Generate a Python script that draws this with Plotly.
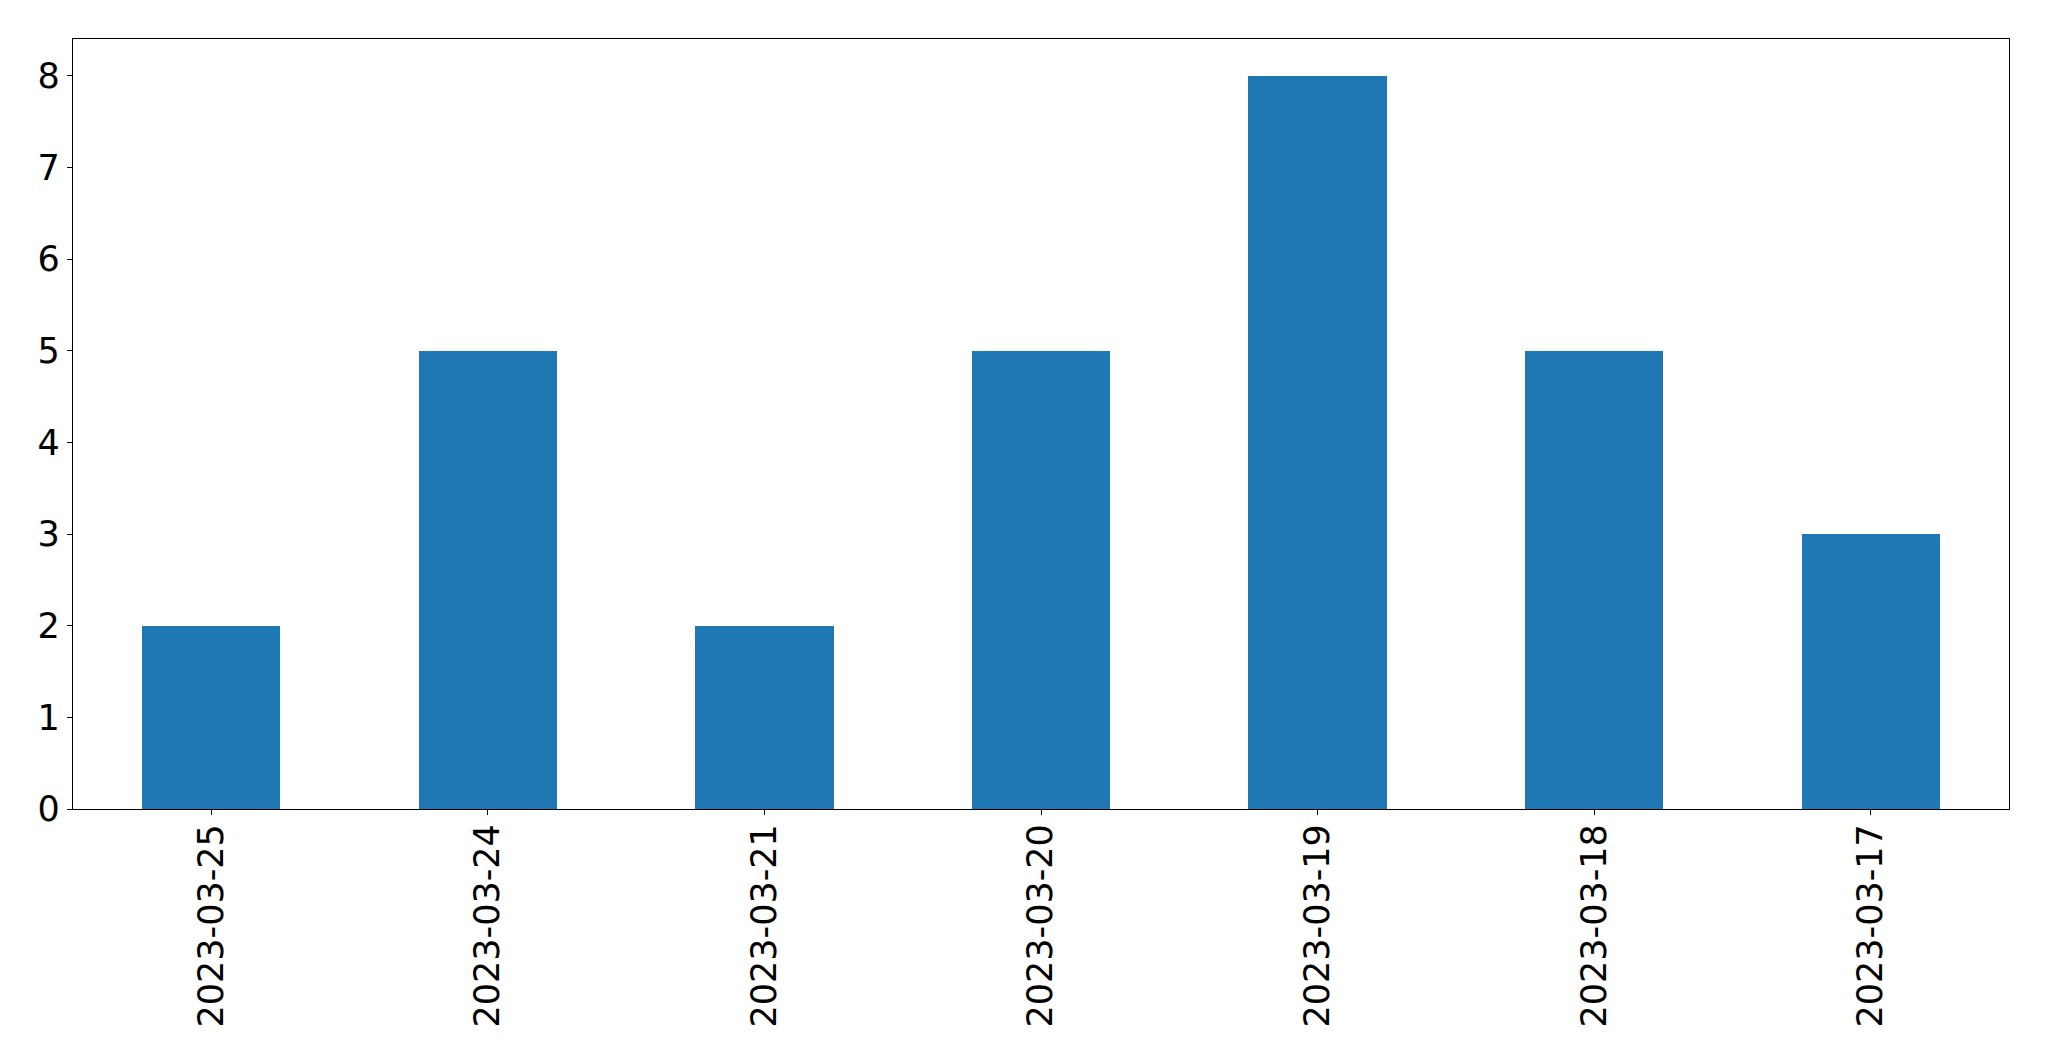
import plotly.graph_objects as go

categories = ["2023-03-25", "2023-03-24", "2023-03-21", "2023-03-20", "2023-03-19", "2023-03-18", "2023-03-17"]
values = [2, 5, 2, 5, 8, 5, 3]
y_ticks = [0, 1, 2, 3, 4, 5, 6, 7, 8]

fig = go.Figure()
fig.add_trace(go.Bar(
    x=list(range(len(categories))),
    y=values,
    width=0.5,
    marker=dict(color="#1f77b4", line=dict(width=0)),
))

# page body has an 8px margin; size the figure to fit the window exactly
OFF = 8
W, H = 2049 - 2 * OFF, 1061 - 2 * OFF
left, right, top, bottom = 72.5 - OFF, 2009.3 - OFF, 39.3 - OFF, 809.3 - OFF

fig.update_layout(
    width=W, height=H,
    margin=dict(l=left, r=W - right, t=top, b=H - bottom, pad=0, autoexpand=False),
    paper_bgcolor="white", plot_bgcolor="white",
    font=dict(family="DejaVu Sans", size=34, color="black"),
    showlegend=False,
    bargap=0,
)
fig.update_xaxes(
    automargin=False,
    range=[-0.5, len(categories) - 0.5],
    tickmode="array",
    tickvals=list(range(len(categories))),
    ticktext=categories,
    tickangle=-90,
    showline=True, linecolor="black", linewidth=1.3, mirror=True,
    ticks="outside", ticklen=5, tickwidth=1.3, tickcolor="black",
    showgrid=False, zeroline=False,
    tickfont=dict(size=35),
    ticklabelstandoff=-5,
)
fig.update_yaxes(
    automargin=False,
    range=[0, 8.4],
    tickmode="array",
    tickvals=y_ticks,
    ticktext=[str(v) for v in y_ticks],
    showline=True, linecolor="black", linewidth=1.3, mirror=True,
    ticks="outside", ticklen=5, tickwidth=1.3, tickcolor="black",
    showgrid=False, zeroline=False,
    tickfont=dict(size=35),
)

fig.write_html("out.html")
